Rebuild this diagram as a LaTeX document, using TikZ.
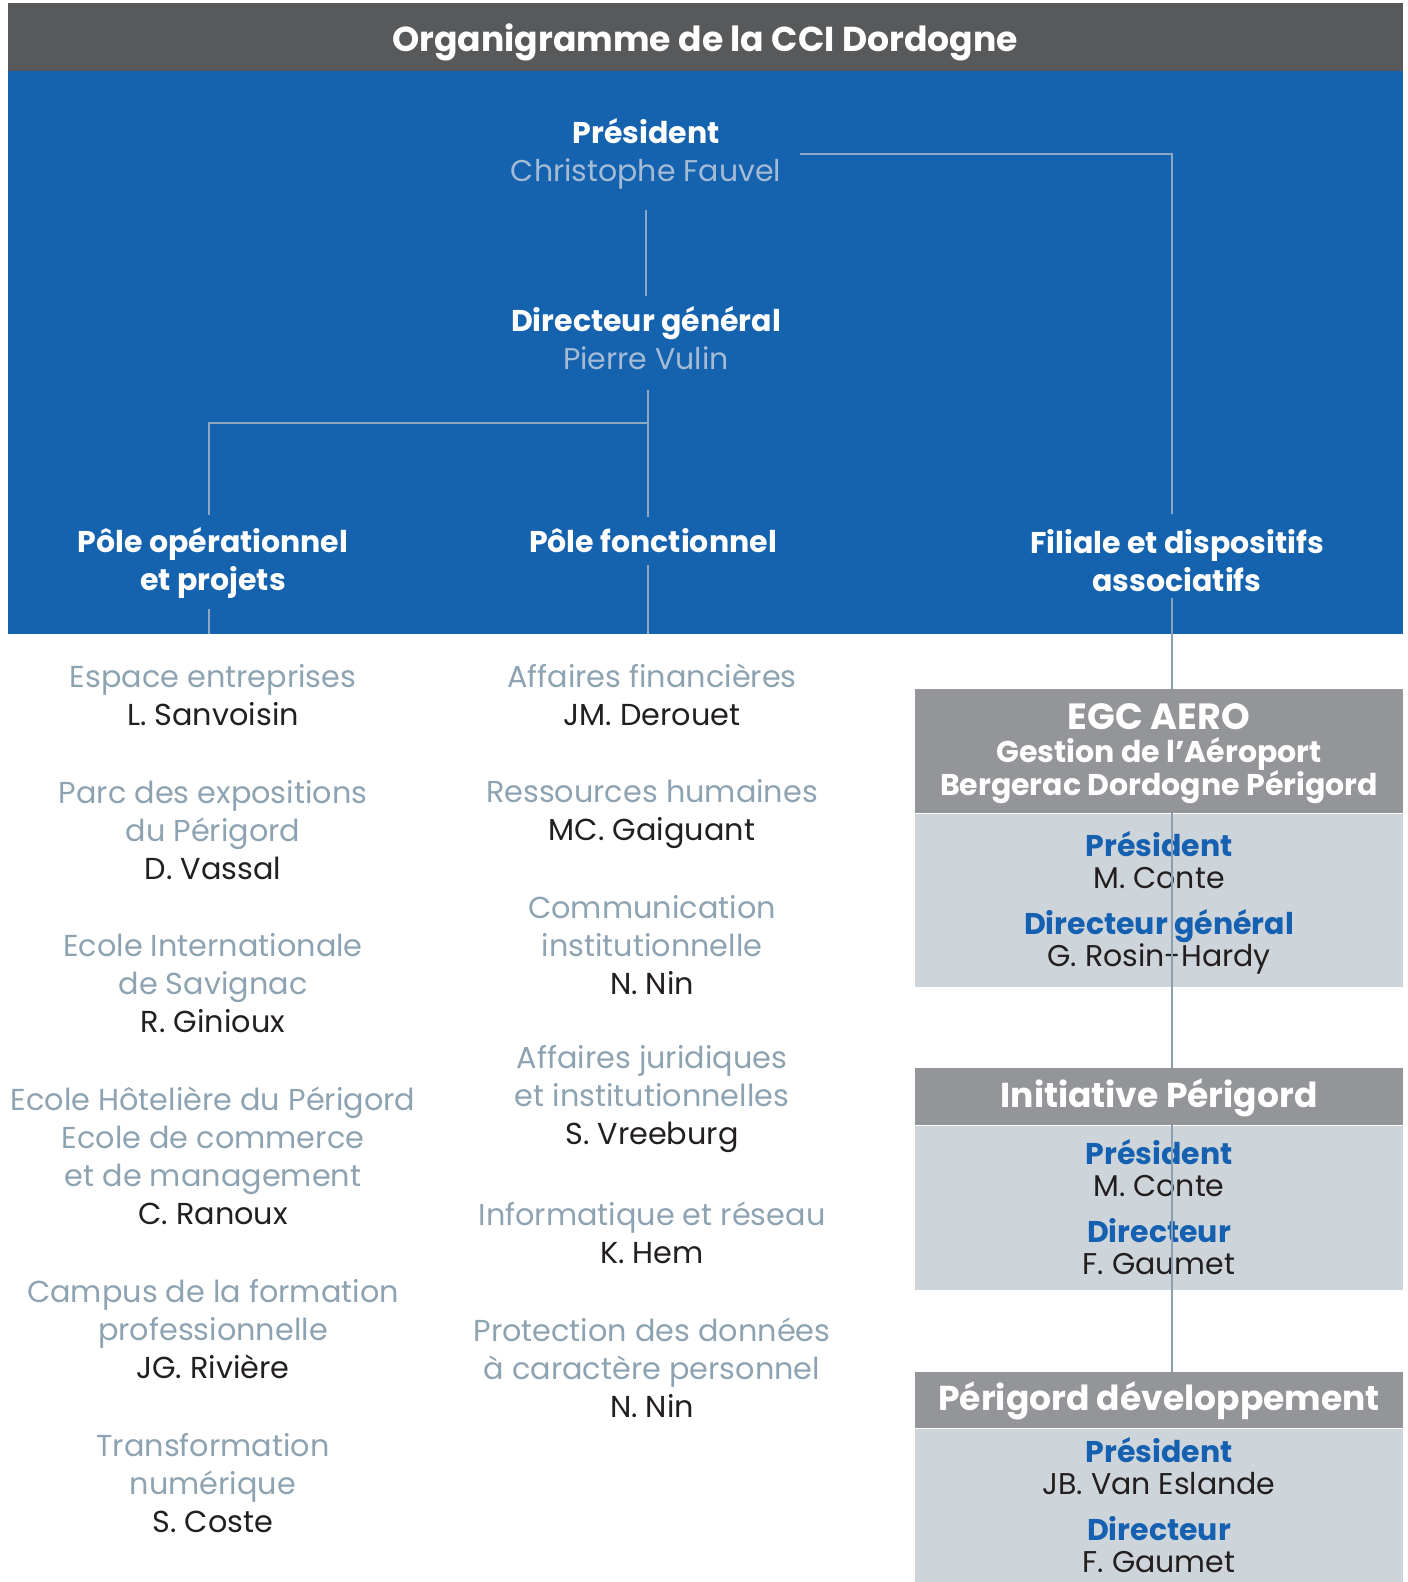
\documentclass[tikz,border=0pt]{standalone}
\usepackage{fontspec}
\setmainfont{Poppins}
\usetikzlibrary{positioning}

\definecolor{titlegray}{HTML}{58595B}
\definecolor{cciblue}{HTML}{1562AE}
\definecolor{paleblue}{HTML}{A3BBD5}
\definecolor{linkblue}{HTML}{8EA7C2}
\definecolor{linkgray}{HTML}{8AA0B0}
\definecolor{lblcol}{HTML}{8EA3B1}
\definecolor{namecol}{HTML}{231F20}
\definecolor{boxgray}{HTML}{939598}
\definecolor{boxlight}{HTML}{CDD5DA}
\definecolor{roleblue}{HTML}{1560B0}

\newcommand\itemlbl[1]{\textcolor{lblcol}{#1}}
\newcommand\boxrole[1]{{\bfseries\color{roleblue}#1}}
\newcommand\bossname[1]{{\mdseries\color{paleblue}#1}}

\begin{document}
\begin{tikzpicture}[x=1pt,y=-1pt,
    link/.style={draw=linkblue,line width=1.4pt},
    spine/.style={draw=linkgray,line width=2pt},
    boss/.style={align=center,inner sep=0pt,text=white,font=\bfseries\fontsize{30}{38}\selectfont},
    item/.style={align=center,inner sep=0pt,text=namecol,font=\fontsize{30.3}{38}\selectfont},
    boxhead/.style={fill=boxgray,minimum width=488pt,inner sep=0pt,align=center,text=white,font=\bfseries\fontsize{30}{33}\selectfont},
    boxbody/.style={fill=boxlight,minimum width=488pt,inner sep=0pt,align=center,text=namecol,font=\fontsize{30}{32}\selectfont}]
  \useasboundingbox (0,0) rectangle (1408,1582);

  % bandeau et fond bleu
  \fill[titlegray] (8,3) rectangle (1403,71);
  \fill[cciblue] (8,71) rectangle (1403,634);
  \node[text=white,font=\bfseries\fontsize{34.6}{40}\selectfont] (title) at (705,42) {Organigramme de la CCI Dordogne};

  % direction
  \node[boss] (pres) at (646,154) {Président\\\bossname{Christophe Fauvel}};
  \node[boss] (dg) at (646,338) {Directeur général\\\bossname{Pierre Vulin}};
  \node[boss] (pop) at (213,563) {Pôle opérationnel\\et projets};
  \node[boss] (pfon) at (653,541) {Pôle fonctionnel};
  \node[boss] (fil) at (1177,561) {Filiale et dispositifs\\associatifs};

  \coordinate (spinex) at (1172,0);
  \coordinate (split) at (648,423);
  \coordinate (opx) at (209,0);
  \coordinate (bluebase) at (0,634);

  \draw[link,shorten <=20pt,shorten >=10pt] (pres.south) -- (pres.south |- dg.north);
  \draw[link,shorten <=20pt,shorten >=12pt] (dg.south -| split) -- (pfon.north -| split);
  \draw[link,shorten >=12pt] (split) -| (pop.north -| opx);
  \draw[link,shorten >=16pt] ([xshift=19pt]pres.east) -| (fil.north -| spinex);
  \draw[link,shorten <=10pt] (pop.south -| opx) -- (bluebase -| opx);
  \draw[link,shorten <=12pt] (pfon.south -| split) -- (bluebase -| split);

  % pole operationnel
  \node[item] (esp) at (213,695) {\itemlbl{Espace entreprises}\\L. Sanvoisin};
  \node[item] (parc) at (213,830) {\itemlbl{Parc des expositions}\\\itemlbl{du Périgord}\\D. Vassal};
  \node[item] (eis) at (213,983) {\itemlbl{Ecole Internationale}\\\itemlbl{de Savignac}\\R. Ginioux};
  \node[item] (ehp) at (213,1156) {\itemlbl{Ecole Hôtelière du Périgord}\\\itemlbl{Ecole de commerce}\\\itemlbl{et de management}\\C. Ranoux};
  \node[item] (campus) at (213,1329) {\itemlbl{Campus de la formation}\\\itemlbl{professionnelle}\\JG. Rivière};
  \node[item] (numq) at (213,1483) {\itemlbl{Transformation}\\\itemlbl{numérique}\\S. Coste};

  % pole fonctionnel
  \node[item] (fin) at (652,695) {\itemlbl{Affaires financières}\\JM. Derouet};
  \node[item] (rh) at (652,814) {\itemlbl{Ressources humaines}\\MC. Gaiguant};
  \node[item] (com) at (652,945) {\itemlbl{Communication}\\\itemlbl{institutionnelle}\\N. Nin};
  \node[item] (jur) at (652,1099) {\itemlbl{Affaires juridiques}\\\itemlbl{et institutionnelles}\\S. Vreeburg};
  \node[item] (info) at (652,1233) {\itemlbl{Informatique et réseau}\\K. Hem};
  \node[item] (rgpd) at (652,1368) {\itemlbl{Protection des données}\\\itemlbl{à caractère personnel}\\N. Nin};

  % filiale et dispositifs
  \node[boxhead,minimum height=124pt,anchor=north] (egchead) at (1159,689)
    {{\fontsize{36.5}{38}\selectfont\rule{0pt}{31.5pt}EGC AERO}\\Gestion de l’Aéroport\\Bergerac Dordogne Périgord};
  \node[boxbody,minimum height=173pt,below=0pt of egchead] (egcbody)
    {\rule{0pt}{31pt}\boxrole{Président}\\M. Conte\\[14pt]\boxrole{Directeur général}\\G. Rosin-Hardy};
  \node[boxhead,minimum height=57pt,anchor=north,font=\bfseries\fontsize{34.5}{36}\selectfont] (inihead) at (1159,1068) {\rule{0pt}{32pt}Initiative Périgord};
  \node[boxbody,minimum height=164pt,below=0pt of inihead] (inibody)
    {\boxrole{Président}\\M. Conte\\[14pt]\boxrole{Directeur}\\F. Gaumet};
  \node[boxhead,minimum height=56pt,anchor=north,font=\bfseries\fontsize{34.5}{36}\selectfont] (devhead) at (1159,1372) {\rule{0pt}{31pt}Périgord développement};
  \node[boxbody,minimum height=154pt,below=0pt of devhead] (devbody)
    {\boxrole{Président}\\JB. Van Eslande\\[14pt]\boxrole{Directeur}\\F. Gaumet};

  \draw[spine,shorten <=6pt] (fil.south -| spinex) -- (egchead.north -| spinex);
  \draw[spine] (egchead.south -| spinex) -- (inihead.north -| spinex);
  \draw[spine] (inihead.south -| spinex) -- (devhead.north -| spinex);
\end{tikzpicture}
\end{document}
